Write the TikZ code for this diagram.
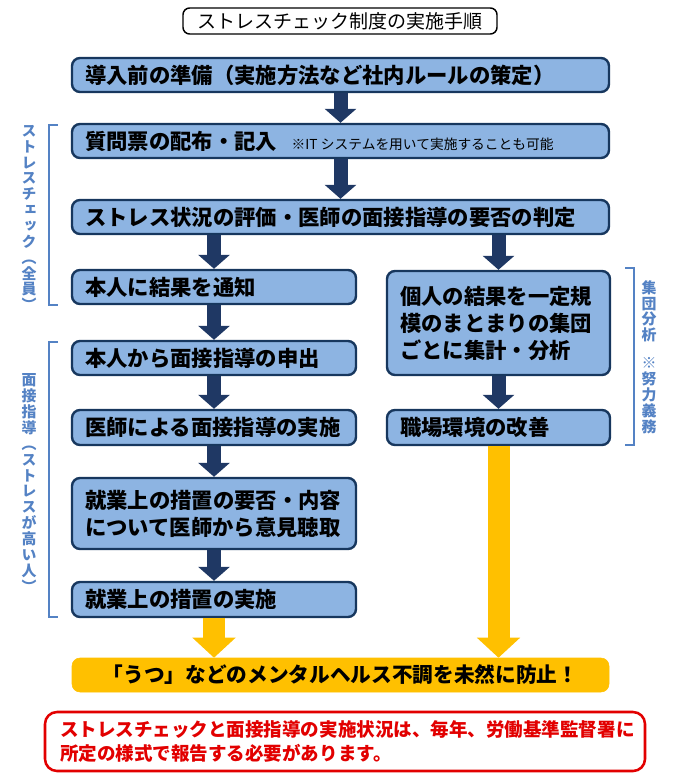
\documentclass[tikz,border=0pt]{standalone}
\usepackage{fontspec}
\usetikzlibrary{arrows.meta}
\newfontfamily\jp{Noto Sans CJK JP}
\newfontfamily\jpv{Noto Sans CJK JP}[RawFeature=+vert]
\definecolor{boxfill}{RGB}{141,180,226}
\definecolor{boxline}{RGB}{23,55,94}
\definecolor{arrownavy}{RGB}{31,56,100}
\definecolor{warnyellow}{RGB}{255,192,0}
\definecolor{labelblue}{RGB}{84,130,196}
\definecolor{reportred}{RGB}{226,0,0}

\begin{document}
\begin{tikzpicture}[x=0.75pt, y=-0.75pt,
  stepbox/.style={draw=boxline, fill=boxfill, line width=1.8pt, rounded corners=6pt, align=left,
    inner xsep=9.75pt, inner ysep=0pt, font=\jp\bfseries\fontsize{16pt}{20.25pt}\selectfont},
  wide/.style={text width=383.25pt, minimum height=25.5pt},
  narrow/.style={text width=193.5pt, minimum height=25.5pt},
  darr/.style={draw=arrownavy, line width=10.5pt, -{Triangle[width=23.25pt, length=10.5pt]}},
  yarr/.style={draw=warnyellow, line width=16.5pt, -{Triangle[width=31.5pt, length=15pt]}},
  sidelabel/.style={text=labelblue, align=center, inner sep=0pt, font=\jpv\bfseries\fontsize{11.2pt}{11.9pt}\selectfont},
  bracket/.style={draw=labelblue, line width=1.1pt}]
  \useasboundingbox (0,0) rectangle (675,780);

  \node[draw, line width=1.1pt, rounded corners=5pt, fill=white, minimum width=235.5pt, minimum height=19.5pt,
    inner sep=0pt, font=\jp\fontsize{14.25pt}{16pt}\selectfont] (title) at (340,21) {ストレスチェック制度の実施手順};

  \node[stepbox, wide] (prep) at (340.5,75) {導入前の準備（実施方法など社内ルールの策定）};
  \node[stepbox, wide] (quest) at (340.5,141) {質問票の配布・記入\hspace{11pt}{\mdseries\fontsize{10.3pt}{12pt}\selectfont ※IT\hspace{2.5pt}システムを用いて実施することも可能}};
  \node[stepbox, wide] (eval) at (340.5,217) {ストレス状況の評価・医師の面接指導の要否の判定};
  \node[stepbox, narrow] (notify) at (214,287) {本人に結果を通知};
  \node[stepbox, text width=147.75pt, minimum height=78pt] (group) at (498.5,323) {個人の結果を一定規\\模のまとまりの集団\\ごとに集計・分析};
  \node[stepbox, narrow] (request) at (214,358) {本人から面接指導の申出};
  \node[stepbox, narrow, minimum height=26.25pt] (interview) at (214,427.5) {医師による面接指導の実施};
  \node[stepbox, text width=147.75pt, minimum height=26.25pt] (improve) at (498.5,427.5) {職場環境の改善};
  \node[stepbox, narrow, minimum height=53.25pt] (opinion) at (214,513.5) {就業上の措置の要否・内容\\について医師から意見聴取};
  \node[stepbox, narrow, minimum height=26.25pt] (measure) at (214,599.5) {就業上の措置の実施};

  \node[draw=warnyellow, fill=warnyellow, rounded corners=6pt, minimum width=402.75pt, minimum height=25.5pt, inner sep=0pt,
    font=\jp\bfseries\fontsize{15.5pt}{18pt}\selectfont] (prevent) at (340.5,675) {「うつ」などのメンタルヘルス不調を未然に防止！};
  \node[draw=reportred, fill=white, line width=1.9pt, rounded corners=9pt, text=reportred, align=left, text width=427.5pt,
    inner xsep=11.25pt, minimum height=44.25pt, font=\jp\bfseries\fontsize{13.9pt}{18pt}\selectfont] (report) at (345,741.5)
    {ストレスチェックと面接指導の実施状況は、毎年、労働基準監督署に\\所定の様式で報告する必要があります。};

  \draw[darr] (prep) -- (quest);
  \draw[darr] (quest) -- (eval);
  \draw[darr] (eval.south -| notify.north) -- (notify.north);
  \draw[darr] (eval.south -| group.north) -- (group.north);
  \draw[darr] (notify) -- (request);
  \draw[darr] (request) -- (interview);
  \draw[darr] (interview) -- (opinion);
  \draw[darr] (opinion) -- (measure);
  \draw[darr] (group) -- (improve);
  \draw[yarr] (measure.south) -- (measure.south |- prevent.north);
  \draw[yarr] (improve.south) -- (improve.south |- prevent.north);

  \node[sidelabel] (labelcheck) at (29,218) {ス\\ト\\レ\\ス\\チ\\ェ\\ッ\\ク\\︵\\全\\員\\︶};
  \node[sidelabel] (labelinterview) at (29,483) {面\\接\\指\\導\\︵\\ス\\ト\\レ\\ス\\が\\高\\い\\人\\︶};
  \node[sidelabel] (labelgroup) at (649,357) {集\\団\\分\\析\\[9pt]※\\努\\力\\義\\務};
  \draw[bracket] (58,125) -- (49,125) -- (49,305) -- (58,305);
  \draw[bracket] (58,342) -- (49,342) -- (49,617) -- (58,617);
  \draw[bracket] (625,268) -- (634,268) -- (634,445) -- (625,445);
\end{tikzpicture}
\end{document}
